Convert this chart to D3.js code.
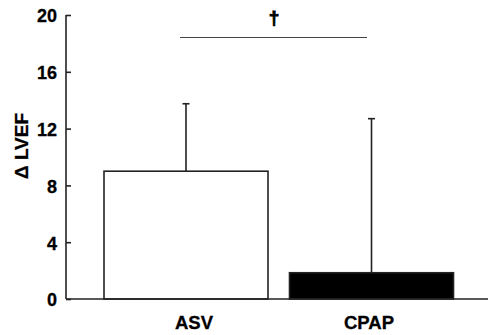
<!DOCTYPE html>
<html><head><meta charset="utf-8">
<script src="https://cdn.jsdelivr.net/npm/d3@7"></script>
<style>body{margin:0;background:#fff}svg{display:block}text{font-family:"Liberation Sans",Arial,sans-serif;font-weight:bold;fill:#000}</style>
</head><body><svg id="c" width="488" height="335"></svg>
<script>
const categories = ["ASV", "CPAP"];
const means = [9.0, 1.85];
const errUpper = [13.75, 12.7];
const fills = ["#ffffff", "#000000"];
const yTicks = [0, 4, 8, 12, 16, 20];
const yLabel = "\u0394 LVEF";
const sigMark = "\u2020";

const svg = d3.select("#c");
const y = d3.scaleLinear().domain([0, 20]).range([299, 15]);
const x = d3.scaleBand().domain(categories).range([104, 453.5]).paddingInner(0.116).paddingOuter(0);

// y axis
const yAxis = svg.append("g").attr("transform", "translate(66,0)")
  .call(d3.axisRight(y).tickValues(yTicks).tickSize(5).tickFormat(""));
yAxis.select(".domain").attr("stroke", "#222").attr("stroke-width", 1.6).attr("d", `M0,${y(0)}V${y(20)}`);
yAxis.selectAll(".tick line").attr("stroke", "#222").attr("stroke-width", 1.6);
svg.append("g").selectAll("text").data(yTicks).join("text")
  .attr("x", 57).attr("y", d => y(d) + 1).attr("dy", "0.36em").attr("text-anchor", "end")
  .attr("font-size", 18).attr("stroke", "#000").attr("stroke-width", 0.3).text(d => d);

// bars
svg.append("g").selectAll("rect").data(categories).join("rect")
  .attr("x", d => x(d)).attr("width", x.bandwidth())
  .attr("y", (d, i) => y(means[i])).attr("height", (d, i) => y(0) - y(means[i]))
  .attr("fill", (d, i) => fills[i]).attr("stroke", "#222").attr("stroke-width", 1.6);

// error bars
const eb = svg.append("g").attr("stroke", "#222").attr("stroke-width", 1.6);
categories.forEach((c, i) => {
  const cx = x(c) + x.bandwidth() / 2;
  eb.append("line").attr("x1", cx).attr("x2", cx).attr("y1", y(means[i])).attr("y2", y(errUpper[i]));
  eb.append("line").attr("x1", cx - 3.5).attr("x2", cx + 3.5).attr("y1", y(errUpper[i])).attr("y2", y(errUpper[i]));
});

// x axis
svg.append("line").attr("x1", 66).attr("x2", 488).attr("y1", y(0)).attr("y2", y(0))
  .attr("stroke", "#222").attr("stroke-width", 1.6);
svg.append("g").selectAll("text").data(categories).join("text")
  .attr("x", (d, i) => x(d) + x.bandwidth() / 2 + (i === 0 ? 8 : -2.5)).attr("y", 329)
  .attr("text-anchor", "middle").attr("font-size", 18.5).attr("stroke", "#000").attr("stroke-width", 0.3).text(d => d);

// y label
svg.append("text").attr("transform", "translate(27.5,146) rotate(-90)")
  .attr("text-anchor", "middle").attr("font-size", 19).attr("stroke", "#000").attr("stroke-width", 0.3).text(yLabel);

// significance
svg.append("line").attr("x1", 180).attr("x2", 367).attr("y1", 37.5).attr("y2", 37.5)
  .attr("stroke", "#444").attr("stroke-width", 1.2);
svg.append("text").attr("x", 274).attr("y", 24).attr("text-anchor", "middle")
  .attr("font-size", 19).attr("stroke", "#000").attr("stroke-width", 0.9).text(sigMark);
</script></body></html>
